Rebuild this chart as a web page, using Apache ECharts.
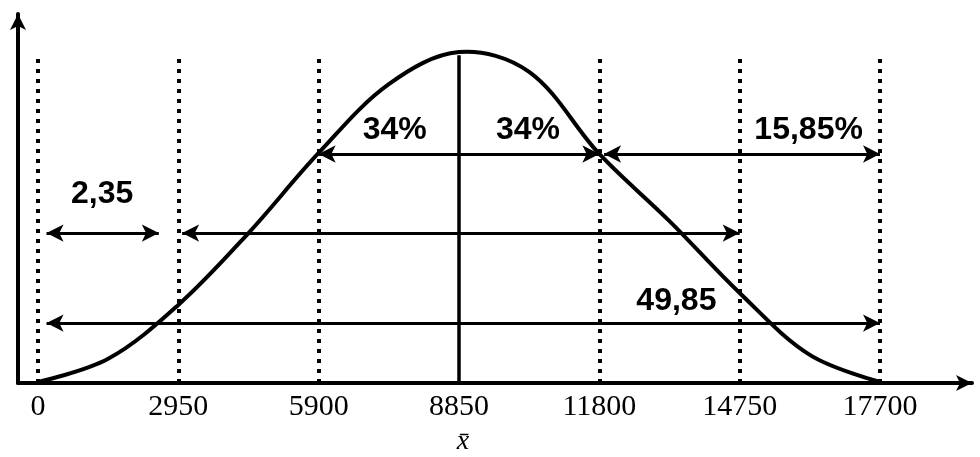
<!DOCTYPE html>
<html>
<head>
<meta charset="utf-8">
<script src="https://cdn.jsdelivr.net/npm/echarts@6/dist/echarts.min.js"></script>
<style>
  html, body { margin: 0; padding: 0; background: #fff; }
  #chart { width: 980px; height: 457px; }
</style>
</head>
<body>
<div id="chart"></div>
<script>
// x-axis tick values (mean = 8850)
const tickValues = [0, 2950, 5900, 8850, 11800, 14750, 17700]
const meanValue = 8850
// bell curve, height in % of peak (ticks and midpoints)
const curveX = [0, 1475, 2950, 4425, 5900, 7375, 8850, 10325, 11800, 13275, 14750, 16225, 17700]
const curveH = [0.3, 7.3, 23.6, 45.3, 69.5, 90.3, 100, 94, 69.2, 48.9, 27.2, 8.5, 0.3]
// top of the vertical guide lines
const guideTop = 99
// double arrows: [from, to, height]
const arrows = [
  [5900, 11800, 69.2],
  [11900, 17700, 69.2],
  [180, 2540, 45.3],
  [3030, 14750, 45.3],
  [180, 17700, 18.1]
]
// annotation texts: [x, height, text]
const notes = [
  [1350, 57.1, '2,35'],
  [7500, 76.4, '34%'],
  [10300, 76.4, '34%'],
  [16200, 76.4, '15,85%'],
  [13420, 24.8, '49,85']
]

const chart = echarts.init(document.getElementById('chart'), null, { renderer: 'canvas' })

const curve = curveX.map((x, i) => [x, curveH[i]])

// vertical guide lines (dotted, mean solid)
const guides = tickValues.map(v => [
  {
    coord: [v, 0],
    lineStyle: v === meanValue
      ? { type: 'solid', width: 3.5 }
      : { type: [4, 6], width: 4 }
  },
  { coord: [v, guideTop] }
])

const arrowLines = arrows.map(a => [
  { coord: [a[0], a[2]] },
  { coord: [a[1], a[2]] }
])

// whole curve drawn once as a smooth polyline through the axis scales
function renderCurve(params, api) {
  if (params.dataIndex !== 0) return null
  const pts = curve.map(p => api.coord(p))
  return {
    type: 'polyline',
    shape: { points: pts, smooth: 0.35 },
    style: { stroke: '#000', lineWidth: 4, fill: null }
  }
}

const option = {
  animation: false,
  backgroundColor: '#fff',
  grid: { left: 18, right: 8, top: 14, bottom: 74 },
  xAxis: {
    type: 'value',
    min: -420,
    max: 19634,
    splitLine: { show: false },
    axisTick: { show: false },
    axisLine: {
      lineStyle: { color: '#000', width: 4 },
      symbol: ['none', 'arrow'],
      symbolSize: [12, 16]
    },
    axisLabel: {
      customValues: tickValues,
      margin: 9,
      color: '#000',
      fontFamily: 'Liberation Serif',
      fontSize: 30,
      formatter: v => v === meanValue ? '8850\n{xb|x\u0304}' : String(v),
      rich: {
        xb: { fontFamily: 'Liberation Serif', fontStyle: 'italic', fontSize: 28, color: '#000', padding: [6, 0, 0, 8] }
      }
    }
  },
  yAxis: {
    type: 'value',
    min: 0,
    max: 111.5,
    splitLine: { show: false },
    axisTick: { show: false },
    axisLabel: { show: false },
    axisLine: {
      show: true,
      onZero: false,
      lineStyle: { color: '#000', width: 4 },
      symbol: ['none', 'arrow'],
      symbolSize: [12, 16]
    }
  },
  series: [
    {
      // guide lines
      type: 'line',
      data: [],
      silent: true,
      markLine: {
        silent: true,
        symbol: ['none', 'none'],
        label: { show: false },
        lineStyle: { color: '#000' },
        data: guides
      }
    },
    {
      // double arrows
      type: 'line',
      data: [],
      silent: true,
      markLine: {
        silent: true,
        symbol: ['arrow', 'arrow'],
        symbolSize: [13, 17],
        label: { show: false },
        lineStyle: { color: '#000', width: 3, type: 'solid' },
        data: arrowLines
      }
    },
    {
      type: 'custom',
      data: curve,
      silent: true,
      z: 5,
      renderItem: renderCurve
    },
    {
      type: 'scatter',
      symbolSize: 0,
      silent: true,
      data: notes,
      itemStyle: { opacity: 1 },
      label: {
        show: true,
        position: 'inside',
        formatter: p => p.data[2],
        color: '#000',
        opacity: 1,
        fontFamily: 'Liberation Sans',
        fontWeight: 'bold',
        fontSize: 32
      }
    }
  ]
}

chart.setOption(option)
</script>
</body>
</html>
